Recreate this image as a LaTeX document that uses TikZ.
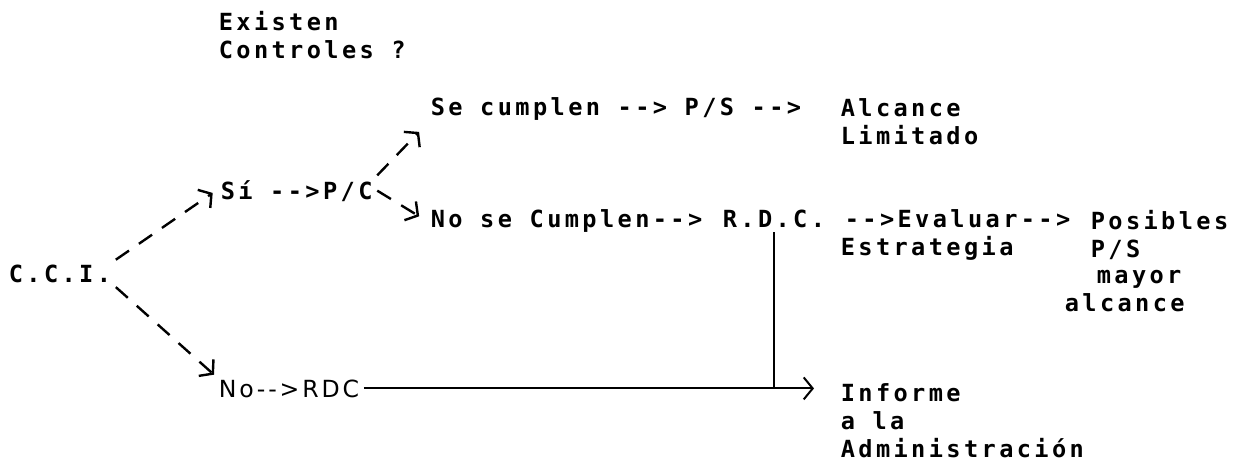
\documentclass[tikz,border=0pt]{standalone}
\usepackage{fontspec}
\newfontfamily\dotfont{DejaVu Sans Mono}[LetterSpace=14.4]
\newfontfamily\rdcfont{DejaVu Sans}[LetterSpace=12]
\newcommand\mainfnt{\dotfont\bfseries\fontsize{11.8}{14}\selectfont}
\newcommand\rdcfnt{\rdcfont\fontsize{11.8}{14}\selectfont}
\usetikzlibrary{arrows.meta}

\begin{document}
\begin{tikzpicture}[x=0.5pt,y=-0.5pt,thick,
	txt/.style={inner sep=2pt,align=left,font=\mainfnt},
	flow/.style={line width=1.2pt,dash pattern=on 8pt off 6pt,-{Straight Barb[length=4.5pt,width=11pt]}},
	link/.style={line width=1pt}]
	\useasboundingbox (0,0) rectangle (1251,461);
	\node[txt,anchor=north west] (exist) at (214,7) {Existen\\Controles ?};
	\node[txt,anchor=base west] (cci) at (4,282) {C.C.I.};
	\node[txt,anchor=base west] (si) at (216,199) {Sí -->P/C};
	\node[txt,anchor=base west] (secump) at (426,115) {Se cumplen --> P/S -->};
	\node[txt,anchor=north west] (alc) at (836,94) {Alcance\\Limitado};
	\node[txt,anchor=base west] (nocump) at (426,227) {No se Cumplen-->};
	\node[txt,anchor=base west] (rdc) at (718,227) {R.D.C.};
	\node[txt,anchor=base west] (evalu) at (840,227) {-->Evaluar-->};
	\node[txt,anchor=north west] (posib) at (1086,206) {Posibles\\P/S};
	\node[txt,anchor=base west] (estr) at (836,255) {Estrategia};
	\node[txt,anchor=base west] (mayor) at (1092,283) {mayor};
	\node[txt,anchor=base west] (alcmay) at (1060,311) {alcance};
	\node[txt,anchor=base west,font=\rdcfnt] (norc) at (214,397) {No-->RDC};
	\node[txt,anchor=north west] (infor) at (836,379) {Informe\\a la\\Administración};
	\coordinate (junct) at (rdc.south |- norc.east);
	\path[flow]
	(cci.north east)	edge [shorten >=2pt]	(si.west)
	(cci.south east)	edge	(norc.north west)
	(si.north east)	edge [shorten >=5pt]	(secump.south west)
	(si.east)	edge [shorten >=4pt]	(nocump.west);
	\draw[link,line width=1.4pt] (rdc.south) -- (junct);
	\draw[link,-{Straight Barb[length=4.5pt,width=11pt]},shorten >=11pt] (norc.east) -- (infor.west |- norc.east);
\end{tikzpicture}
\end{document}
